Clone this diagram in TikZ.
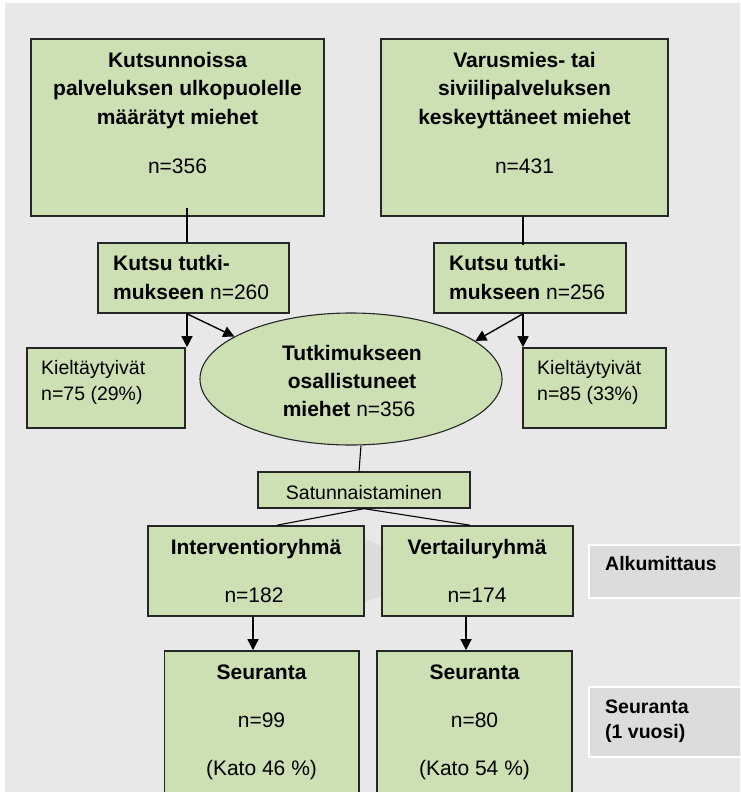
\documentclass[tikz,border=0pt]{standalone}
\usepackage{fontspec}
\setmainfont{Liberation Sans}
\usetikzlibrary{arrows.meta,shapes.geometric}
\definecolor{bg}{HTML}{E8E8E8}
\definecolor{boxgreen}{HTML}{CCE0B4}
\definecolor{edge}{HTML}{262626}
\definecolor{labgray}{HTML}{DCDCDC}
\definecolor{chev}{HTML}{DCDCDC}
\begin{document}
\begin{tikzpicture}[x=1pt,y=-1pt,
  gbox/.style={draw=edge, line width=1.6pt, fill=boxgreen, rectangle, inner sep=0pt},
  lbox/.style={draw=white, line width=1.5pt, fill=labgray, rectangle, inner sep=0pt},
  bigb/.style={font=\fontsize{21}{25}\selectfont\bfseries, inner sep=0pt, anchor=base},
  bigr/.style={font=\fontsize{21}{25}\selectfont, inner sep=0pt, anchor=base},
  bigl/.style={font=\fontsize{21}{25}\selectfont, inner sep=0pt, anchor=base west},
  smr/.style={font=\fontsize{19.5}{23}\selectfont, inner sep=0pt, anchor=base west},
  smc/.style={font=\fontsize{19.5}{23}\selectfont, inner sep=0pt, anchor=base},
  labt/.style={font=\fontsize{19.5}{23}\selectfont\bfseries, inner sep=0pt, anchor=base west},
  conn/.style={draw=black, line width=1.4pt},
  arr/.style={conn, -{Triangle[length=11pt,width=11pt]}}
]
\useasboundingbox (0,0) rectangle (740,792);
\clip (0,0) rectangle (740,792);
\fill[bg] (5,3) rectangle (760,800);
% faint background chevron
\fill[chev] (340,527) -- (438,573) -- (340,612) -- cycle;

% boxes
\node[gbox, minimum width=293pt, minimum height=177pt] (tl) at (177.5,127.5) {};
\node[gbox, minimum width=287pt, minimum height=177pt] (tr) at (524.5,127.5) {};
\node[gbox, minimum width=191pt, minimum height=70pt] (k1) at (193.5,278) {};
\node[gbox, minimum width=192pt, minimum height=70pt] (k2) at (530,278) {};
\node[gbox, minimum width=158pt, minimum height=80pt] (r1) at (106,388) {};
\node[gbox, minimum width=143pt, minimum height=80pt] (r2) at (594.5,388) {};
\node[draw=edge, line width=1.1pt, fill=boxgreen, ellipse, inner sep=0pt,
      minimum width=302pt, minimum height=132pt] (ell) at (351,379) {};
\node[gbox, line width=1.3pt, minimum width=212pt, minimum height=36pt] (sat) at (364,490) {};
\node[gbox, minimum width=216pt, minimum height=90pt] (iv) at (256,571) {};
\node[gbox, minimum width=191pt, minimum height=90pt] (vt) at (477.5,571) {};
\node[gbox, minimum width=194.5pt, minimum height=149pt] (s1) at (261.75,725.5) {};
\node[gbox, minimum width=195pt, minimum height=149pt] (s2) at (474.5,725.5) {};
\node[lbox, minimum width=171pt, minimum height=53pt] (alk) at (674.5,571.5) {};
\node[lbox, minimum width=171pt, minimum height=70pt] (sl) at (674.5,722) {};

% connectors
\draw[conn] (tl.south -| 187,0) ++(0,-9) -- (k1.north -| 187,0);
\draw[conn] (tr.south -| 523,0) -- ([yshift=-3pt]k2.north -| 523,0);
\draw[arr] (k1.south -| 187,0) -- (r1.north -| 187,0);
\draw[arr] (k1.south -| 187,0) -- (ell.160.8);
\draw[arr] (k2.south -| 523,0) -- (r2.north -| 523,0);
\draw[arr] (k2.south -| 523,0) -- (ell.17);
\draw[conn, line width=1.1pt] (ell.south -| 361,0) -- (sat.north -| 359,0);
\draw[conn, line width=1.1pt] (sat.south) -- (iv.north -| 277,0);
\draw[conn, line width=1.1pt] (sat.south) -- (vt.north -| 470,0);
\draw[arr] (iv.south -| 253,0) -- (s1.north -| 253,0);
\draw[arr] (vt.south -| 466,0) -- (s2.north -| 466,0);

% texts: top left
\node[bigb] (tla) at (177.5,67) {Kutsunnoissa};
\node[bigb] (tlb) at (177.5,95.5) {palveluksen ulkopuolelle};
\node[bigb] (tlc) at (177.5,124) {määrätyt miehet};
\node[bigr] (tld) at (177.5,173) {n=356};
% top right
\node[bigb] (tra) at (524.5,67) {Varusmies- tai};
\node[bigb] (trb) at (524.5,95.5) {siviilipalveluksen};
\node[bigb] (trc) at (524.5,124) {keskeyttäneet miehet};
\node[bigr] (trd) at (524.5,173) {n=431};
% kutsu
\node[bigl] (k1a) at (113,270) {\bfseries Kutsu tutki-};
\node[bigl] (k1b) at (113,299) {{\bfseries mukseen} n=260};
\node[bigl] (k2a) at (449,270) {\bfseries Kutsu tutki-};
\node[bigl] (k2b) at (449,299) {{\bfseries mukseen} n=256};
% refused
\node[smr] (r1a) at (41,374) {Kieltäytyivät};
\node[smr] (r1b) at (41,400) {n=75 (29\%)};
\node[smr] (r2a) at (537,374) {Kieltäytyivät};
\node[smr] (r2b) at (537,400) {n=85 (33\%)};
% ellipse
\node[bigb] (ea) at (352,360) {Tutkimukseen};
\node[bigb] (eb) at (352,388) {osallistuneet};
\node[bigr] (ec) at (349,416) {{\bfseries miehet} n=356};
% randomisation
\node[smc] (sa) at (364,499) {Satunnaistaminen};
% groups
\node[bigb] (iva) at (256,554) {Interventioryhmä};
\node[bigr] (ivb) at (254,602) {n=182};
\node[bigb] (vta) at (477,554) {Vertailuryhmä};
\node[bigr] (vtb) at (477,602) {n=174};
% follow-up
\node[bigb] (s1a) at (261.5,679) {Seuranta};
\node[bigr] (s1b) at (261.5,727) {n=99};
\node[bigr] (s1c) at (261.5,775) {(Kato 46 \%)};
\node[bigb] (s2a) at (474.5,679) {Seuranta};
\node[bigr] (s2b) at (474.5,727) {n=80};
\node[bigr] (s2c) at (474.5,775) {(Kato 54 \%)};
% side labels
\node[labt] (alkt) at (605,570.5) {Alkumittaus};
\node[labt] (sla) at (605,713.5) {Seuranta};
\node[labt] (slb) at (605,738.5) {(1 vuosi)};
\end{tikzpicture}
\end{document}
